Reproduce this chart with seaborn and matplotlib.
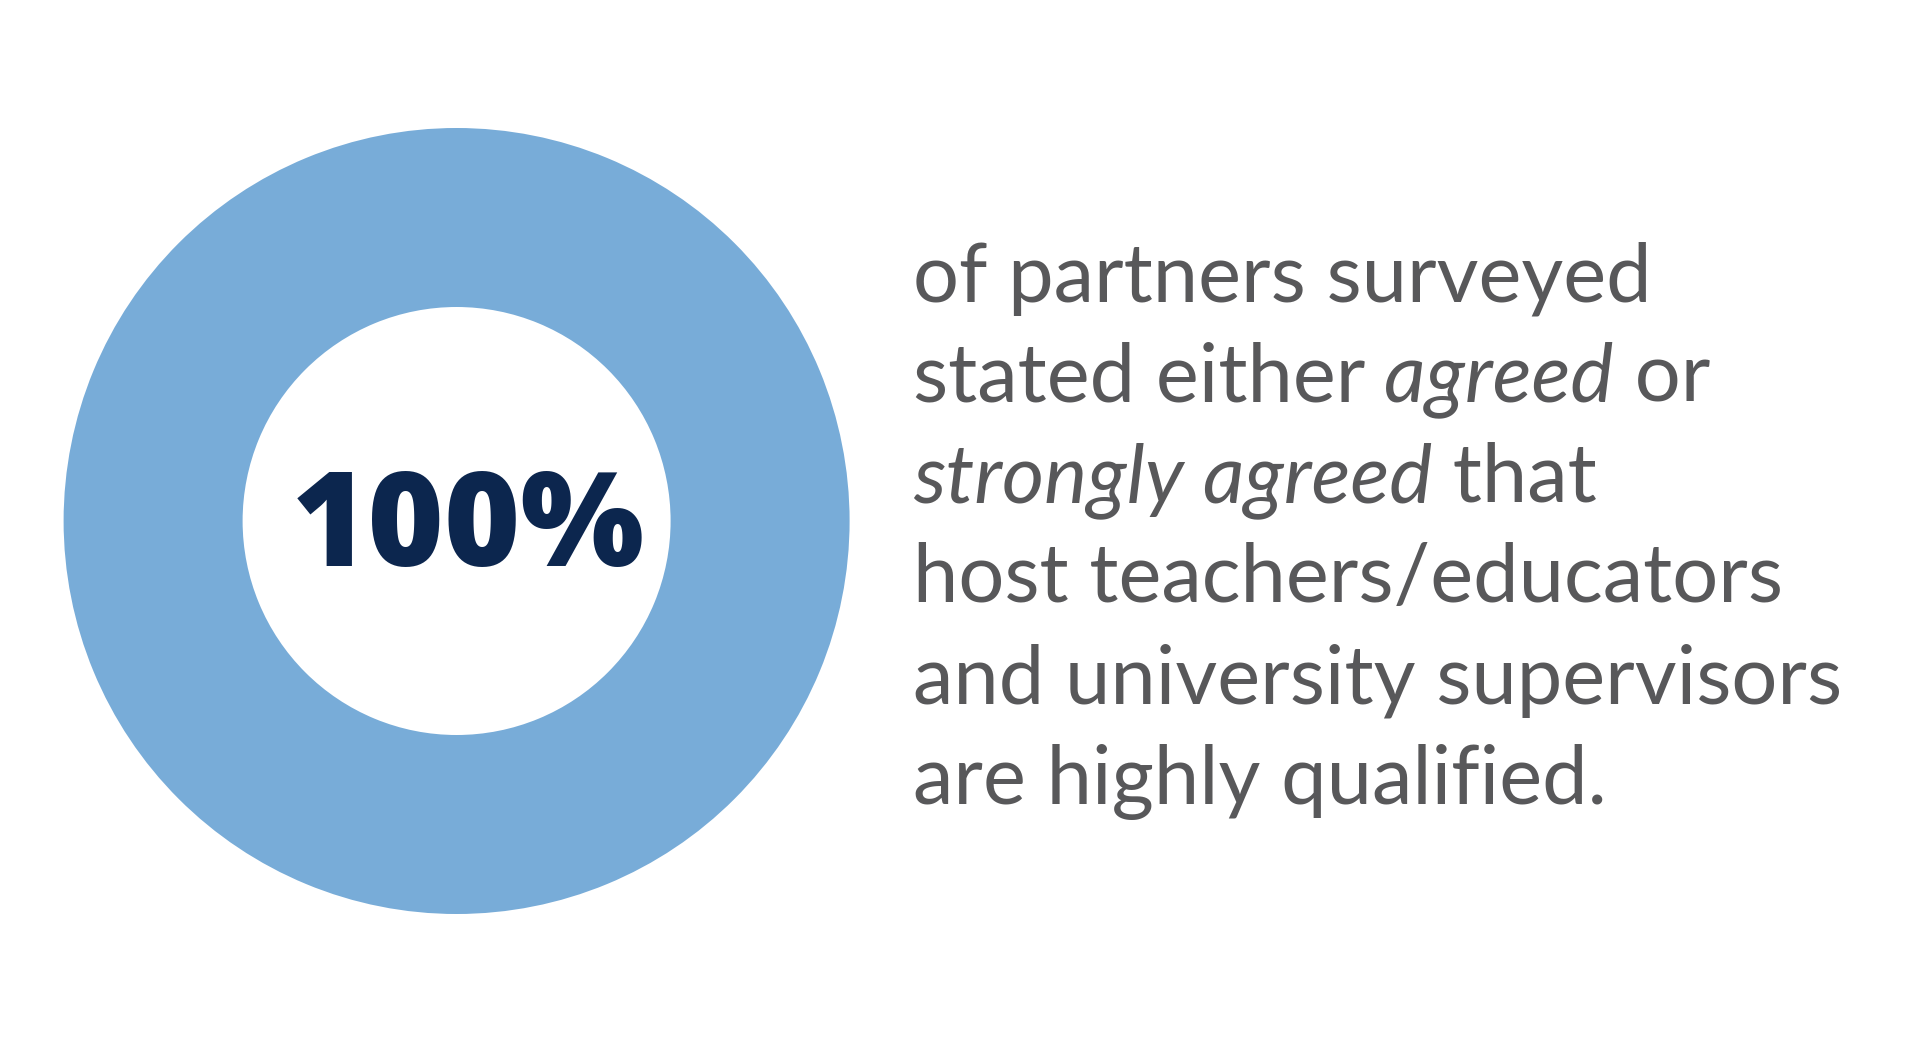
import matplotlib
matplotlib.use("Agg")
import matplotlib.pyplot as plt
import seaborn as sns

sns.set_theme(style="white")
plt.rcParams["font.family"] = ["Lato", "DejaVu Sans"]

# Data
share_labels = ["Agreed / strongly agreed", "Other"]
share_values = [100, 0]
headline = "100%"
caption_lines = [
    [("of partners surveyed", "normal")],
    [("stated either", "normal"), (" agreed", "italic"), (" or", "normal")],
    [("strongly agreed", "italic"), (" that", "normal")],
    [("host teachers/educators", "normal")],
    [("and university supervisors", "normal")],
    [("are highly qualified.", "normal")],
]

ring_color = "#78acd8"
navy = "#0c264e"
grey = "#58585a"

W, H = 1909, 1042
fig = plt.figure(figsize=(W / 100, H / 100), dpi=100)
fig.patch.set_facecolor("white")

# Donut
cx, cy, r = 456.6, 521, 393
ax = fig.add_axes([(cx - r) / W, (H - cy - r) / H, 2 * r / W, 2 * r / H])
ax.pie(
    share_values,
    colors=[ring_color, "white"],
    startangle=90,
    counterclock=False,
    radius=1.0,
    wedgeprops=dict(width=1 - 214 / 393, linewidth=0),
)
ax.set_xlim(-1, 1)
ax.set_ylim(-1, 1)
ax.set_aspect("equal")
ax.axis("off")

fig.text(468 / W, (H - 566) / H, headline, ha="center", va="baseline",
         fontsize=94, fontweight=800, color=navy,
         family=["Open Sans", "Roboto", "DejaVu Sans"])

# Caption
renderer = fig.canvas.get_renderer()
x0 = 913
baseline0 = 301
spacing = 100.5
for i, segs in enumerate(caption_lines):
    x = x0
    y = H - (baseline0 + i * spacing)
    for seg, style in segs:
        t = fig.text(x / W, y / H, seg, ha="left", va="baseline",
                     fontsize=58.5, fontweight="normal", style=style, color=grey)
        bb = t.get_window_extent(renderer)
        x = bb.x1

fig.savefig("out.png", dpi=100, facecolor="white")
